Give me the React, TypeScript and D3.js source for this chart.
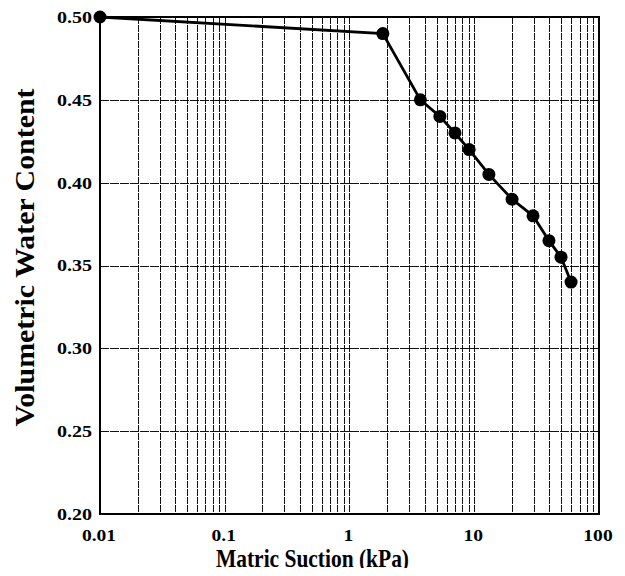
import React, { useEffect, useRef } from 'react';
import * as d3 from 'd3';

const suction = [0.01, 1.85, 3.7, 5.3, 7.0, 9.1, 13.1, 20.1, 29.6, 39.7, 49.6, 59.7];
const waterContent = [0.5, 0.49, 0.45, 0.44, 0.43, 0.42, 0.405, 0.39, 0.38, 0.365, 0.355, 0.34];
const xTicks = [0.01, 0.1, 1, 10, 100];
const yTicks = [0.2, 0.25, 0.3, 0.35, 0.4, 0.45, 0.5];

const W = 625;
const H = 576;

const App = () => {
  const svgRef = useRef<SVGSVGElement>(null);

  useEffect(() => {
    const svg = d3.select(svgRef.current);
    svg.selectAll('*').remove();

    const margin = { top: 17, right: 26, bottom: 62, left: 100 };
    const iw = W - margin.left - margin.right;
    const ih = H - margin.top - margin.bottom;

    const x = d3.scaleLog().domain([0.01, 100]).range([0, iw]);
    const y = d3.scaleLinear().domain([0.2, 0.5]).range([ih, 0]);

    const g = svg.append('g').attr('transform', `translate(${margin.left},${margin.top})`);
    const font = '"Liberation Serif", "Times New Roman", serif';

    // grid, snapped to pixels so it stays dark
    g.append('g')
      .selectAll('line')
      .data(x.ticks())
      .enter().append('line')
      .attr('x1', d => Math.round(x(d)) + 0.5).attr('x2', d => Math.round(x(d)) + 0.5)
      .attr('y1', 0).attr('y2', ih)
      .attr('stroke', '#111').attr('stroke-width', 1)
      .attr('stroke-dasharray', '7,1');

    g.append('g')
      .selectAll('line')
      .data(yTicks)
      .enter().append('line')
      .attr('x1', 0).attr('x2', iw)
      .attr('y1', d => Math.round(y(d)) + 0.5).attr('y2', d => Math.round(y(d)) + 0.5)
      .attr('stroke', '#111').attr('stroke-width', 1)
      .attr('stroke-dasharray', '9,1');

    g.append('rect')
      .attr('width', iw).attr('height', ih)
      .attr('fill', 'none').attr('stroke', '#000').attr('stroke-width', 2);

    // tick labels
    g.append('g')
      .selectAll('text')
      .data(yTicks)
      .enter().append('text')
      .attr('transform', d => `translate(-8,${y(d)}) scale(1.18,1)`)
      .attr('dy', '0.35em')
      .attr('text-anchor', 'end')
      .attr('font-family', font).attr('font-weight', 'bold').attr('font-size', 17)
      .text(d => d3.format('.2f')(d));

    g.append('g')
      .selectAll('text')
      .data(xTicks)
      .enter().append('text')
      .attr('transform', d => `translate(${x(d) - 1},${ih + 27}) scale(1.15,1)`)
      .attr('text-anchor', 'middle')
      .attr('font-family', font).attr('font-weight', 'bold').attr('font-size', 17)
      .text(d => String(d));

    svg.append('text')
      .attr('x', 216).attr('y', 567)
      .attr('text-anchor', 'start')
      .attr('textLength', 193).attr('lengthAdjust', 'spacingAndGlyphs')
      .attr('font-family', font).attr('font-weight', 'bold').attr('font-size', 26)
      .text('Matric Suction (kPa)');

    svg.append('text')
      .attr('transform', `translate(34,${margin.top + ih / 2 - 8}) rotate(-90)`)
      .attr('text-anchor', 'middle')
      .attr('textLength', 338).attr('lengthAdjust', 'spacingAndGlyphs')
      .attr('font-family', font).attr('font-weight', 'bold').attr('font-size', 27)
      .text('Volumetric Water Content');

    // data
    const pts = suction.map((s, i) => [s, waterContent[i]] as [number, number]);
    g.append('path')
      .datum(pts)
      .attr('fill', 'none').attr('stroke', '#000').attr('stroke-width', 2.8)
      .attr('d', d3.line<[number, number]>().x(d => x(d[0])).y(d => y(d[1])));

    g.append('g')
      .selectAll('circle')
      .data(pts)
      .enter().append('circle')
      .attr('cx', d => x(d[0])).attr('cy', d => y(d[1]))
      .attr('r', 6.5).attr('fill', '#000');
  }, []);

  return <svg ref={svgRef} width={W} height={H} style={{ display: 'block', margin: -8 }}></svg>;
};

export default App;
